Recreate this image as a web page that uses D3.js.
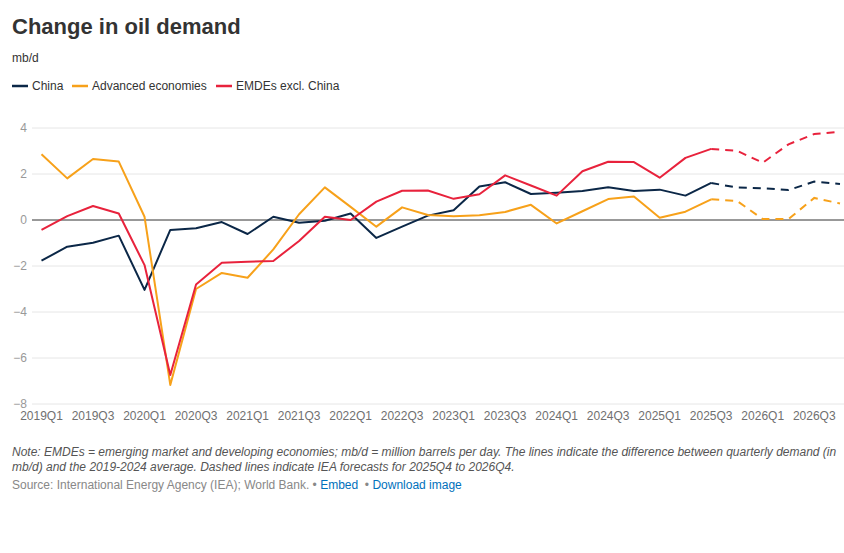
<!DOCTYPE html>
<html>
<head>
<meta charset="utf-8">
<script src="https://cdn.jsdelivr.net/npm/d3@7"></script>
<style>
  body { margin: 0; background: #fff; font-family: "Liberation Sans", Arial, sans-serif; }
</style>
</head>
<body>
<div id="chart"></div>
<script>
var width = 844;
var height = 553;

// quarters 2019Q1 .. 2026Q4
var quarters = [];
[2019, 2020, 2021, 2022, 2023, 2024, 2025, 2026].forEach(function(y) {
  [1, 2, 3, 4].forEach(function(q) { quarters.push(y + "Q" + q); });
});

var china = [-1.77, -1.16, -0.99, -0.68, -3.04, -0.43, -0.36, -0.09,
  -0.61, 0.14, -0.12, -0.03, 0.28, -0.78, -0.29, 0.19,
  0.42, 1.46, 1.64, 1.13, 1.19, 1.26, 1.42, 1.26,
  1.32, 1.06, 1.61, 1.41, 1.38, 1.30, 1.67, 1.57];

var advanced = [2.86, 1.81, 2.65, 2.54, 0.14, -7.17, -3.00, -2.30,
  -2.51, -1.28, 0.25, 1.42, 0.57, -0.29, 0.55, 0.22,
  0.16, 0.21, 0.35, 0.66, -0.15, 0.38, 0.91, 1.02,
  0.10, 0.36, 0.90, 0.83, 0.04, 0.04, 0.96, 0.72];

var emdes = [-0.43, 0.17, 0.61, 0.28, -1.96, -6.74, -2.80, -1.86,
  -1.81, -1.78, -0.91, 0.14, 0.00, 0.80, 1.27, 1.28,
  0.92, 1.12, 1.94, 1.50, 1.06, 2.12, 2.53, 2.52,
  1.84, 2.70, 3.09, 3.01, 2.49, 3.29, 3.74, 3.84];

var yTicks = [-8, -6, -4, -2, 0, 2, 4];
var forecastStart = "2025Q3"; // dashed from here on

var series = [
  { name: "China", color: "#0b2747", values: china },
  { name: "Advanced economies", color: "#f7a11a", values: advanced },
  { name: "EMDEs excl. China", color: "#e8223c", values: emdes }
];

var svg = d3.select("#chart")
  .append("svg")
  .attr("width", width)
  .attr("height", height)
  .style("font-family", "'Liberation Sans', Arial, sans-serif");

var xScale = d3.scalePoint()
  .domain(quarters)
  .range([41.5, 840]);

var yScale = d3.scaleLinear()
  .domain([-8, 4])
  .range([404, 128]);

// title + unit
svg.append("text")
  .attr("x", 12).attr("y", 34)
  .attr("font-size", "22px").attr("font-weight", "bold")
  .attr("fill", "#333")
  .text("Change in oil demand");

svg.append("text")
  .attr("x", 12).attr("y", 62)
  .attr("font-size", "12px").attr("fill", "#333")
  .text("mb/d");

// legend
var legendX = [12, 72, 216];
var legend = svg.selectAll(".legend").data(series).enter()
  .append("g")
  .attr("transform", function(d, i) { return "translate(" + legendX[i] + ",86)"; });
legend.append("line")
  .attr("x1", 0).attr("x2", 16)
  .attr("stroke", function(d) { return d.color; })
  .attr("stroke-width", 2.5);
legend.append("text")
  .attr("x", 20).attr("y", 4)
  .attr("font-size", "12px").attr("fill", "#333")
  .text(function(d) { return d.name; });

// grid + y labels
svg.selectAll(".grid").data(yTicks).enter()
  .append("line")
  .attr("x1", 32).attr("x2", 844)
  .attr("y1", function(d) { return yScale(d); })
  .attr("y2", function(d) { return yScale(d); })
  .attr("stroke", function(d) { return d === 0 ? "#333" : "#e6e6e6"; })
  .attr("stroke-width", 1);

svg.selectAll(".ylab").data(yTicks).enter()
  .append("text")
  .attr("x", 27)
  .attr("y", function(d) { return yScale(d) + 4; })
  .attr("text-anchor", "end")
  .attr("font-size", "12px").attr("fill", "#999")
  .text(function(d) { return d < 0 ? "\u2212" + Math.abs(d) : d; });

// x labels, every other quarter
svg.selectAll(".xlab").data(quarters.filter(function(q, i) { return i % 2 === 0; })).enter()
  .append("text")
  .attr("x", function(d) { return xScale(d); })
  .attr("y", 420)
  .attr("text-anchor", "middle")
  .attr("font-size", "12px").attr("fill", "#707070")
  .text(function(d) { return d; });

// lines
var line = d3.line()
  .x(function(d) { return xScale(d.q); })
  .y(function(d) { return yScale(d.v); });

var split = quarters.indexOf(forecastStart);

series.forEach(function(s) {
  var pts = s.values.map(function(v, i) { return { q: quarters[i], v: v }; });
  svg.append("path")
    .datum(pts.slice(0, split + 1))
    .attr("d", line)
    .attr("fill", "none")
    .attr("stroke", s.color)
    .attr("stroke-width", 2)
    .attr("stroke-linejoin", "round");
  svg.append("path")
    .datum(pts.slice(split))
    .attr("d", line)
    .attr("fill", "none")
    .attr("stroke", s.color)
    .attr("stroke-width", 2)
    .attr("stroke-dasharray", "8,6");
});

// note + source
var note = svg.append("text")
  .attr("x", 12).attr("y", 456)
  .attr("font-size", "12px").attr("font-style", "italic").attr("fill", "#555");
note.append("tspan").attr("x", 12).attr("dy", 0)
  .text("Note: EMDEs = emerging market and developing economies; mb/d = million barrels per day. The lines indicate the difference between quarterly demand (in");
note.append("tspan").attr("x", 12).attr("dy", 15)
  .text("mb/d) and the 2019-2024 average. Dashed lines indicate IEA forecasts for 2025Q4 to 2026Q4.");

var src = svg.append("text")
  .attr("x", 12).attr("y", 489)
  .attr("font-size", "12px").attr("fill", "#888")
  .attr("xml:space", "preserve")
  .style("white-space", "pre");
src.append("tspan").text("Source: International Energy Agency (IEA); World Bank. \u2022 ");
src.append("tspan").attr("fill", "#0071bc").text("Embed");
src.append("tspan").text("  \u2022 ");
src.append("tspan").attr("fill", "#0071bc").text("Download image");
</script>
</body>
</html>
